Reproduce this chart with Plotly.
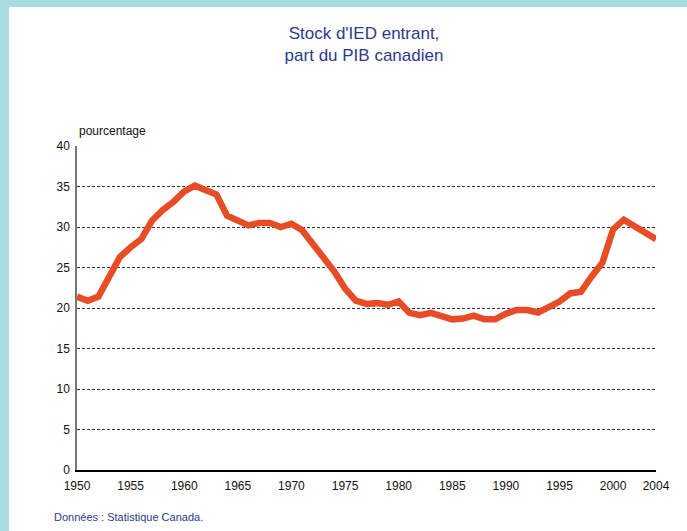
import plotly.graph_objects as go

years = list(range(1950, 2005))
values = [21.4, 20.9, 21.4, 23.7, 26.3, 27.5, 28.5, 30.8, 32.1, 33.1,
          34.4, 35.1, 34.6, 34.0, 31.4, 30.9, 30.2, 30.5, 30.5, 30.0,
          30.4, 29.6, 28.0, 26.4, 24.5, 22.4, 20.9, 20.5, 20.6, 20.4,
          20.8, 19.4, 19.1, 19.4, 19.1, 18.6, 18.7, 19.05, 18.6, 18.6,
          19.3, 19.75, 19.75, 19.45, 20.1, 20.8, 21.8, 22.0, 23.9, 25.6,
          29.7, 30.9, 30.1, 29.3, 28.5]
x_ticks = [1950, 1955, 1960, 1965, 1970, 1975, 1980, 1985, 1990, 1995, 2000, 2004]
y_ticks = [0, 5, 10, 15, 20, 25, 30, 35, 40]

W, H = 687, 531
L, R, T, B = 77, 31, 146, 61
pw, ph = W - L - R, H - T - B

fig = go.Figure()
fig.add_trace(go.Scatter(x=years, y=values, mode="lines",
                         line=dict(color="#E84C26", width=6.5),
                         showlegend=False, hoverinfo="skip"))

border = "#A8DDDF"
fig.add_shape(type="rect", xref="paper", yref="paper", layer="below",
              x0=-L / pw - 0.01, x1=-(L - 9) / pw, y0=-B / ph - 0.01, y1=1 + T / ph + 0.01,
              fillcolor=border, line=dict(width=0))
fig.add_shape(type="rect", xref="paper", yref="paper", layer="below",
              x0=-L / pw - 0.01, x1=1 + R / pw + 0.01, y0=1 + (T - 7) / ph, y1=1 + T / ph + 0.01,
              fillcolor=border, line=dict(width=0))

fig.update_layout(
    width=W, height=H,
    margin=dict(l=L, r=R, t=T, b=B),
    paper_bgcolor="white", plot_bgcolor="white",
    font=dict(family="Liberation Sans, Arial, sans-serif", size=12, color="#111111"),
    title=dict(text="Stock d'IED entrant,<br>part du PIB canadien",
               x=364 / W, xanchor="center", y=1 - 38.5 / H, yanchor="top",
               font=dict(size=17, color="#2E3A8C")),
    xaxis=dict(range=[1950, 2004], tickvals=x_ticks, showgrid=False,
               showline=True, linecolor="#000000", linewidth=1.5,
               ticks="outside", ticklen=4, tickcolor="rgba(0,0,0,0)",
               zeroline=False,
               tickfont=dict(size=12, color="#111111")),
    yaxis=dict(range=[0, 40], tickvals=y_ticks, showgrid=True,
               gridcolor="#333333", gridwidth=1, griddash="3px,2px",
               showline=True, linecolor="#777777", linewidth=1.5,
               ticks="outside", ticklen=3, tickcolor="rgba(0,0,0,0)",
               zeroline=False,
               tickfont=dict(size=12, color="#111111")),
    annotations=[
        dict(text="pourcentage", xref="paper", yref="paper", x=0, y=1 + 6 / ph,
             xanchor="left", yanchor="bottom", showarrow=False,
             font=dict(size=12, color="#111111")),
        dict(text="Données : Statistique Canada.", xref="paper", yref="paper",
             x=-(L - 52) / pw, y=-(517 - 470) / ph, xanchor="left", yanchor="middle",
             showarrow=False, font=dict(size=11, color="#2E3A8C")),
    ],
)

fig.write_html("out.html", config={"displayModeBar": False},
               post_script="document.body.style.margin='0';document.body.style.padding='0';")
